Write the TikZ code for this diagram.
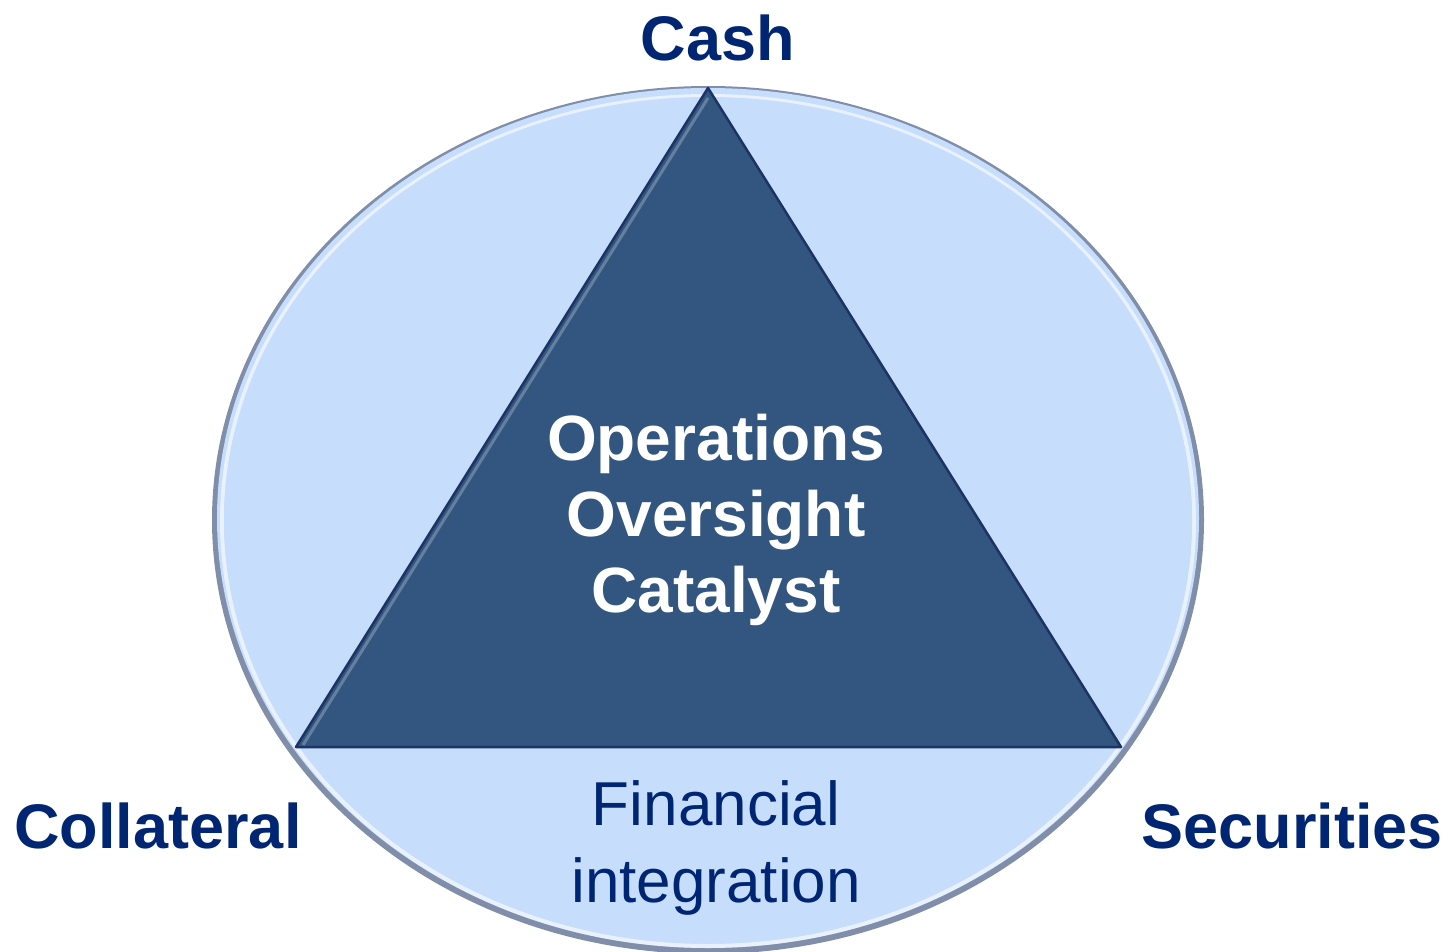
\documentclass[tikz,border=0pt]{standalone}
\usepackage{fontspec}
\setmainfont{Liberation Sans}
\definecolor{navy}{RGB}{0,38,115}
\definecolor{ellfill}{RGB}{198,221,252}
\definecolor{ellrim}{RGB}{128,142,170}
\definecolor{trifill}{RGB}{50,86,128}
\definecolor{triedge}{RGB}{28,52,100}
\tikzset{
  corner/.style={font=\bfseries\fontsize{63}{70}\selectfont, text=navy, inner sep=0pt},
  tritext/.style={font=\bfseries\fontsize{64}{76}\selectfont, text=white, align=center, inner sep=0pt},
  bottomtext/.style={font=\fontsize{62}{77}\selectfont, text=navy, align=center, inner sep=0pt}
}
\begin{document}
\begin{tikzpicture}[x=1pt,y=-1pt]
\useasboundingbox (0,0) rectangle (1448,952);
% ellipse with rim
\fill[ellrim] (708,520) ellipse [x radius=496, y radius=434];
\fill[ellfill] (708,518) ellipse [x radius=491, y radius=430];
\draw[white, opacity=0.6, line width=4pt] (708,521) ellipse [x radius=486, y radius=425];
\fill[ellfill] (708,520) ellipse [x radius=484, y radius=423];
% triangle
\coordinate (apex) at (708,88);
\coordinate (bl) at (296,747);
\coordinate (br) at (1121,747);
\filldraw[fill=trifill, draw=triedge, line width=2.5pt, line join=round] (apex) -- (bl) -- (br) -- cycle;
\draw[white, opacity=0.25, line width=3pt] (708,98) -- (303,745);
% texts
\node[corner] (cash) at (718,38) {Cash};
\node[corner] (coll) at (158,826) {Collateral};
\node[corner] (sec) at (1292,826) {Securities};
\node[tritext] (ooc) at (716,520) {Operations\\Oversight\\Catalyst};
\node[bottomtext] (fin) at (716,848) {Financial\\integration};
\end{tikzpicture}
\end{document}
